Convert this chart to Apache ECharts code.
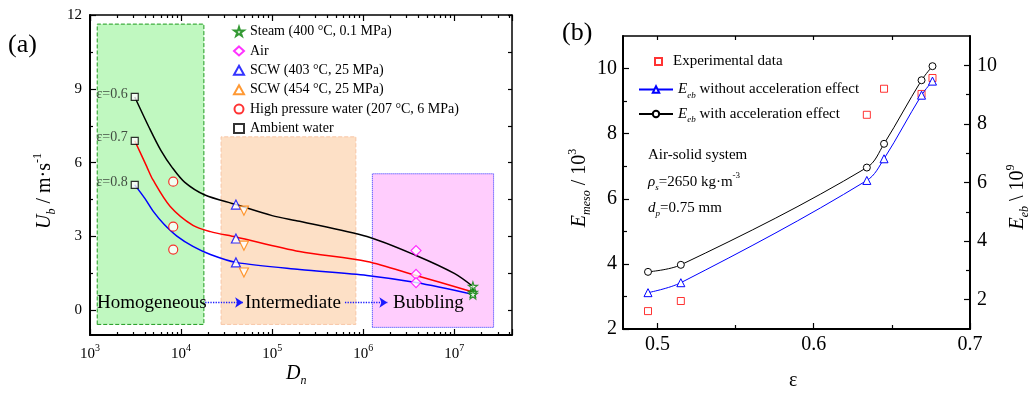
<!DOCTYPE html>
<html>
<head>
<meta charset="utf-8">
<script src="https://cdn.jsdelivr.net/npm/echarts@6.0.0/dist/echarts.min.js"></script>
<style>
  html, body { margin: 0; padding: 0; background: #fff; }
  #chart { width: 1031px; height: 397px; }
</style>
</head>
<body>
<div id="chart"></div>
<script>
const SERIF = 'Liberation Serif';

// ---------- (a) 数据点 [Dn, Ub] ----------
const steam = [[1.6e7, 0.97], [1.6e7, 0.73], [1.6e7, 0.65]];
const air = [[3.8e6, 2.43], [3.8e6, 1.46], [3.8e6, 1.13]];
const scw403 = [[4.0e4, 4.30], [4.0e4, 2.92], [4.0e4, 1.95]];
const scw454 = [[4.9e4, 4.05], [4.9e4, 2.63], [4.9e4, 1.54]];
const hpWater = [[8.2e3, 5.23], [8.2e3, 3.40], [8.2e3, 2.47]];
const ambient = [[3.1e3, 8.67], [3.1e3, 6.89], [3.1e3, 5.10]];
const epsLabels = ['ε=0.6', 'ε=0.7', 'ε=0.8'];

// (a) 拟合曲线
const fit06 = [[3.1e3, 8.67], [4.5e3, 7.40], [6.0e3, 6.50], [8.0e3, 5.80], [1.1e4, 5.20],
  [1.8e4, 4.70], [4.0e4, 4.30], [1.0e5, 3.85], [2.0e5, 3.62], [1.1e6, 3.00],
  [3.8e6, 2.23], [1.0e7, 1.50], [1.6e7, 0.97]];
const fit07 = [[3.1e3, 6.89], [4.2e3, 5.84], [4.9e3, 5.31], [7.6e3, 4.22], [1.35e4, 3.45],
  [2.1e4, 3.20], [4.0e4, 2.98], [2.0e5, 2.39], [1.1e6, 1.99], [3.8e6, 1.42], [1.6e7, 0.75]];
const fit08 = [[3.1e3, 5.10], [4.0e3, 4.55], [5.0e3, 4.00], [6.5e3, 3.50], [9.0e3, 3.02],
  [1.35e4, 2.60], [2.1e4, 2.27], [4.0e4, 1.95], [2.0e5, 1.66], [1.1e6, 1.42], [3.8e6, 1.13], [1.6e7, 0.65]];

// (a) 流型区域 [x0, x1, y0, y1]
const regHomo = [1.2e3, 1.78e4, -0.57, 11.63];
const regInter = [2.75e4, 8.3e5, -0.57, 7.05];
const regBubble = [1.26e6, 2.7e7, -0.69, 5.55];
const arrowHI = [1.84e4, 4.8e4, 0.32];
const arrowIB = [6.3e5, 1.84e6, 0.32];

// (a) 刻度
const aXRange = [1e3, 4.3e7];
const aYRange = [-1, 12];
const aYTicks = [0, 3, 6, 9, 12];
const aYMinor = [1.5, 4.5, 7.5, 10.5];
const aYRightTicks = [0, 1.5, 3, 4.5, 6, 7.5, 9, 10.5, 12];
const aXMinor = [];
[1e3, 1e4, 1e5, 1e6, 1e7].forEach(d => {
  for (let m = 2; m <= 9; m++) if (d * m < aXRange[1]) aXMinor.push(Math.log10(d * m));
});

// ---------- (b) 数据 ----------
const eps = [0.494, 0.515, 0.634, 0.645, 0.669, 0.676];
const expData = [2.55, 2.86, 8.58, 9.38, 9.22, 9.71];   // E_meso / 10^3
const ebNoAcc = [2.24, 2.58, 6.07, 6.81, 8.98, 9.46];   // E_eb / 10^9
const ebAcc = [2.95, 3.19, 6.51, 7.32, 9.49, 9.97];

const bXRange = [0.478, 0.7];
const bXTicks = [0.5, 0.6, 0.7];
const bXMinor = [0.55, 0.65];
const bXTopTicks = [0.5, 0.55, 0.6, 0.65];
const bYLeftRange = [2, 11];
const bYRightRange = [1, 11];
const bYTicks = [2, 4, 6, 8, 10];
const bYMinor = [3, 5, 7, 9];

const zip = (xs, ys) => xs.map((x, i) => [x, ys[i]]);

// 富文本：斜体、下标、上标
const rich = (size) => ({
  i: { fontFamily: SERIF, fontStyle: 'italic', fontSize: size, lineHeight: size + 6, color: '#000', fill: '#000' },
  t: { fontFamily: SERIF, fontSize: size, lineHeight: size + 6, color: '#000', fill: '#000' },
  sub: { fontFamily: SERIF, fontStyle: 'italic', fontSize: Math.round(size * 0.62), lineHeight: Math.round(size * 0.62),
    verticalAlign: 'bottom', color: '#000', fill: '#000' },
  sup: { fontFamily: SERIF, fontSize: Math.round(size * 0.62), lineHeight: Math.round(size * 0.62),
    verticalAlign: 'top', color: '#000', fill: '#000' }
});

// 坐标轴
function mkAxis(o) {
  return {
    type: o.type || 'value',
    gridIndex: o.grid,
    position: o.position,
    logBase: 10,
    min: o.min,
    max: o.max,
    axisLine: { show: o.line !== false, onZero: false, lineStyle: { color: '#000', width: o.lineWidth || 2 } },
    axisTick: Object.assign({ show: true, inside: true, length: o.tickLen || 6,
      lineStyle: { color: '#000', width: 1.2 } }, o.ticks ? { customValues: o.ticks } : {}),
    axisLabel: o.label || { show: false },
    splitLine: { show: false },
    minorTick: { show: false }
  };
}

const logLabel = {
  show: true, margin: 8, color: '#000',
  formatter: v => {
    const l = Math.log10(v);
    if (Math.abs(l - Math.round(l)) > 1e-6) return '';
    return '{b|10}{sup|' + Math.round(l) + '}';
  },
  rich: {
    b: { fontFamily: SERIF, fontSize: 15, lineHeight: 19, verticalAlign: 'bottom', color: '#000' },
    sup: { fontFamily: SERIF, fontSize: 10, lineHeight: 10, verticalAlign: 'top', color: '#000' }
  }
};

const numLabel = (vals, size, margin, digits) => ({
  show: true, customValues: vals, margin: margin, color: '#000',
  fontFamily: SERIF, fontSize: size,
  formatter: v => digits ? v.toFixed(digits) : String(v)
});

const xAxes = [
  // (a)
  mkAxis({ type: 'log', grid: 0, position: 'bottom', min: aXRange[0], max: aXRange[1], label: logLabel }),
  mkAxis({ grid: 0, position: 'bottom', min: Math.log10(aXRange[0]), max: Math.log10(aXRange[1]),
    ticks: aXMinor, tickLen: 3, line: false }),
  mkAxis({ type: 'log', grid: 0, position: 'top', min: aXRange[0], max: aXRange[1], lineWidth: 1.5 }),
  mkAxis({ grid: 0, position: 'top', min: Math.log10(aXRange[0]), max: Math.log10(aXRange[1]),
    ticks: aXMinor, tickLen: 3, line: false }),
  // (b)
  mkAxis({ grid: 1, position: 'bottom', min: bXRange[0], max: bXRange[1], ticks: bXTicks,
    label: numLabel(bXTicks, 20, 6, 1) }),
  mkAxis({ grid: 1, position: 'bottom', min: bXRange[0], max: bXRange[1], ticks: bXMinor, tickLen: 4, line: false }),
  mkAxis({ grid: 1, position: 'top', min: bXRange[0], max: bXRange[1], ticks: bXTopTicks, tickLen: 4, lineWidth: 1.5 })
];

const yAxes = [
  // (a)
  mkAxis({ grid: 0, position: 'left', min: aYRange[0], max: aYRange[1], ticks: aYTicks,
    label: numLabel(aYTicks, 15, 8) }),
  mkAxis({ grid: 0, position: 'left', min: aYRange[0], max: aYRange[1], ticks: aYMinor, tickLen: 3, line: false }),
  mkAxis({ grid: 0, position: 'right', min: aYRange[0], max: aYRange[1], ticks: aYRightTicks, tickLen: 4, lineWidth: 1.5 }),
  // (b)
  mkAxis({ grid: 1, position: 'left', min: bYLeftRange[0], max: bYLeftRange[1], ticks: bYTicks,
    label: numLabel(bYTicks, 20, 6) }),
  mkAxis({ grid: 1, position: 'left', min: bYLeftRange[0], max: bYLeftRange[1], ticks: bYMinor, tickLen: 4, line: false }),
  mkAxis({ grid: 1, position: 'right', min: bYRightRange[0], max: bYRightRange[1], ticks: bYTicks,
    label: numLabel(bYTicks, 20, 7) }),
  mkAxis({ grid: 1, position: 'right', min: bYRightRange[0], max: bYRightRange[1], ticks: bYMinor, tickLen: 4, line: false })
];

const hollow = (c, w) => ({ color: '#fff', borderColor: c, borderWidth: w || 1.2 });
const STAR = 'path://M50,0 L61,35 L98,35 L68,57 L79,91 L50,70 L21,91 L32,57 L2,35 L39,35 Z';

const areaItem = (r, style) => [
  { xAxis: r[0], yAxis: r[2], itemStyle: style },
  { xAxis: r[1], yAxis: r[3] }
];
const arrowItem = (a) => [{ coord: [a[0], a[2]] }, { coord: [a[1], a[2]] }];

const fitLine = (name, data, color) => ({
  name: name, type: 'line', xAxisIndex: 0, yAxisIndex: 0, data: data,
  smooth: 0.3, showSymbol: false, silent: true, z: 2,
  lineStyle: { color: color, width: 1.5 }
});

const aScatter = (name, data, color, symbol, size, extra) => Object.assign({
  name: name, type: 'scatter', xAxisIndex: 0, yAxisIndex: 0, data: data,
  symbol: symbol, symbolSize: size, itemStyle: hollow(color), z: 4
}, extra || {});

const series = [
  {
    name: 'regions', type: 'line', xAxisIndex: 0, yAxisIndex: 0, data: [], z: 1, silent: true,
    markArea: {
      silent: true,
      data: [
        areaItem(regHomo, { color: '#c0f8c0', borderColor: '#1f9a1f', borderWidth: 1, borderType: 'dashed' }),
        areaItem(regInter, { color: '#fde0c6', borderColor: '#f8c6a6', borderWidth: 1, borderType: 'dashed' }),
        areaItem(regBubble, { color: '#ffcdfd', borderColor: '#2b2bff', borderWidth: 1, borderType: 'dotted' })
      ]
    },
    markLine: {
      silent: true, symbol: ['none', 'arrow'], symbolSize: 8,
      label: { show: false },
      lineStyle: { color: '#1a1aff', type: 'dotted', width: 1.3 },
      data: [arrowItem(arrowHI), arrowItem(arrowIB)]
    }
  },
  fitLine('fit06', fit06, '#000000'),
  fitLine('fit07', fit07, '#ff0000'),
  fitLine('fit08', fit08, '#0000ff'),
  aScatter('Steam (400 °C, 0.1 MPa)', steam, '#008000', STAR, 9),
  aScatter('Air', air, '#ff00ff', 'diamond', 10),
  aScatter('SCW (403 °C, 25 MPa)', scw403, '#0000ff', 'triangle', 9),
  aScatter('SCW (454 °C, 25 MPa)', scw454, '#ff8000', 'triangle', 9, { symbolRotate: 180 }),
  aScatter('High pressure water (207 °C, 6 MPa)', hpWater, '#ff0000', 'circle', 9),
  aScatter('Ambient water', ambient, '#000000', 'rect', 7, {
    label: {
      show: true, position: 'left', distance: 3, offset: [0, -3],
      formatter: p => epsLabels[p.dataIndex],
      fontFamily: SERIF, fontSize: 14, color: '#222'
    }
  }),
  // (b)
  {
    name: 'Experimental data', type: 'scatter', xAxisIndex: 4, yAxisIndex: 3,
    data: zip(eps, expData), symbol: 'rect', symbolSize: 7, itemStyle: hollow('#ff0000', 1), z: 3
  },
  {
    name: 'Eeb without acceleration effect', type: 'line', xAxisIndex: 4, yAxisIndex: 5,
    data: zip(eps, ebNoAcc), smooth: 0.35,
    symbol: 'triangle', symbolSize: 8, itemStyle: hollow('#0000ff', 1),
    lineStyle: { color: '#0000ff', width: 1 }, z: 4
  },
  {
    name: 'Eeb with acceleration effect', type: 'line', xAxisIndex: 4, yAxisIndex: 5,
    data: zip(eps, ebAcc), smooth: 0.35,
    symbol: 'circle', symbolSize: 7, itemStyle: hollow('#000000', 1),
    lineStyle: { color: '#000000', width: 1 }, z: 4
  }
];

const gText = (x, y, text, size) => ({
  type: 'text', x: x, y: y, z: 100, silent: true,
  style: { text: text, fontFamily: SERIF, fontSize: size, fill: '#000',
    align: 'left', verticalAlign: 'middle', rich: rich(size) }
});

const rotText = (x, y, text, size) => ({
  type: 'text', x: x, y: y, z: 100, rotation: Math.PI / 2, silent: true,
  style: { text: text, fontFamily: SERIF, fontSize: size, fill: '#000',
    align: 'center', verticalAlign: 'middle', rich: rich(size) }
});

// 图例文字：图标与文字之间留空
const padRich = (size, pad) => Object.assign(rich(size), {
  p: { fontFamily: SERIF, fontSize: size, lineHeight: size + 1, color: '#000', padding: [0, 0, 0, pad] }
});

const option = {
  animation: false,
  backgroundColor: '#fff',
  textStyle: { fontFamily: SERIF },
  grid: [
    { left: 90, top: 15, width: 422, height: 320 },
    { left: 623, top: 36, width: 347, height: 293 }
  ],
  xAxis: xAxes,
  yAxis: yAxes,
  legend: [
    {
      data: ['Steam (400 °C, 0.1 MPa)', 'Air', 'SCW (403 °C, 25 MPa)', 'SCW (454 °C, 25 MPa)',
        'High pressure water (207 °C, 6 MPa)', 'Ambient water'],
      orient: 'vertical', left: 228, top: 19, itemWidth: 10, itemHeight: 9, itemGap: 4.4,
      selectedMode: false,
      formatter: n => '{p|' + n + '}',
      textStyle: { fontFamily: SERIF, fontSize: 14, lineHeight: 15, color: '#000', rich: padRich(14, 1) }
    },
    {
      data: ['Experimental data'],
      orient: 'vertical', left: 649, top: 49, itemWidth: 7, itemHeight: 7, itemGap: 6.5,
      selectedMode: false,
      formatter: n => '{p|' + n + '}',
      textStyle: { fontFamily: SERIF, fontSize: 15, color: '#000', rich: padRich(15, 6) }
    },
    {
      data: ['Eeb without acceleration effect', 'Eeb with acceleration effect'],
      orient: 'vertical', left: 633, top: 77, itemWidth: 34, itemHeight: 8, itemGap: 6.5,
      selectedMode: false,
      formatter: n => '{i|E}{sub|eb}{t|' + n.slice(3) + '}',
      textStyle: { fontFamily: SERIF, fontSize: 15, color: '#000', rich: rich(15) }
    }
  ],
  graphic: [
    gText(8, 45, '(a)', 26),
    gText(562, 33, '(b)', 26),
    gText(97, 303, 'Homogeneous', 19),
    gText(245, 303, 'Intermediate', 19),
    gText(393, 303, 'Bubbling', 19),
    rotText(45, 191, '{i|U}{sub|b}{t| / m·s}{sup|-1}', 20),
    gText(286, 374, '{i|D}{sub|n}', 20),
    gText(789, 381, 'ε', 20),
    rotText(580, 188, '{i|E}{sub|meso}{t| / 10}{sup|3}', 20),
    rotText(1018, 197, '{i|E}{sub|eb}{t| \\ 10}{sup|9}', 20),
    gText(648, 155, 'Air-solid system', 15),
    gText(648, 182, '{i|ρ}{sub|s}{t|=2650 kg·m}{sup|-3}', 15),
    gText(648, 208, '{i|d}{sub|p}{t|=0.75 mm}', 15)
  ],
  series: series
};

const chart = echarts.init(document.getElementById('chart'), null, { renderer: 'canvas' });
chart.setOption(option);
</script>
</body>
</html>
